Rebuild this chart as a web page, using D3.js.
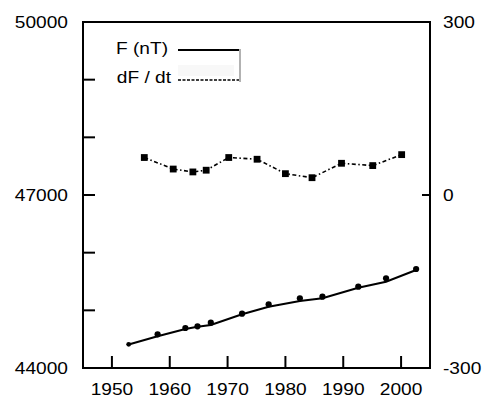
<!DOCTYPE html>
<html>
<head>
<meta charset="utf-8">
<script src="https://cdn.jsdelivr.net/npm/d3@7"></script>
<style>
  body { margin: 0; background: #fff; }
  text { font-family: "Liberation Sans", Arial, sans-serif; font-size: 16.5px; fill: #000; }
</style>
</head>
<body>
<svg id="chart" width="487" height="404"></svg>
<script>
// total field F (dots) and the fitted line, left axis
var fYears = [1952.9, 1957.9, 1962.7, 1964.8, 1967.1, 1972.5, 1977.1, 1982.5, 1986.4, 1992.6, 1997.4, 2002.6];
var fDots  = [44411, 44584, 44694, 44723, 44786, 44942, 45105, 45209, 45237, 45410, 45555, 45717];
var fLine  = [44408, 44550, 44676, 44716, 44746, 44931, 45063, 45162, 45209, 45393, 45497, 45699];
// secular variation dF/dt (squares), right axis
var dYears = [1955.6, 1960.6, 1964.0, 1966.3, 1970.2, 1975.1, 1980.0, 1984.6, 1989.7, 1995.1, 2000.1];
var dVals  = [65, 45, 40, 43, 65, 62, 37, 30, 55, 51, 70];
// ticks
var xTicks = [1950, 1960, 1970, 1980, 1990, 2000];
var leftTicks = [45000, 46000, 47000, 48000, 49000];
var leftLabels = [44000, 47000, 50000];
var rightLabels = [300, 0, -300];
var legendNames = ['F (nT)', 'dF / dt'];

var svg = d3.select('#chart');
var L = 83, R = 430, T = 22, B = 368;
var sx = 1.16;   // glyphs in the original are stretched horizontally

var x = d3.scaleLinear().domain([1945, 2005]).range([L, R]);
var yL = d3.scaleLinear().domain([44000, 50000]).range([B, T]);
var yR = d3.scaleLinear().domain([-300, 300]).range([B, T]);

function label(px, py, txt, anchor) {
  svg.append('text')
    .attr('transform', 'translate(' + px + ',' + py + ') scale(' + sx + ',1)')
    .attr('text-anchor', anchor)
    .attr('dy', '0.35em')
    .text(txt);
}

// frame
svg.append('rect')
  .attr('x', L).attr('y', T).attr('width', R - L).attr('height', B - T)
  .attr('fill', 'none').attr('stroke', '#000').attr('stroke-width', 2);

// inward ticks
svg.append('g').selectAll('line').data(leftTicks).enter().append('line')
  .attr('x1', L).attr('x2', L + 12)
  .attr('y1', function (d) { return yL(d) }).attr('y2', function (d) { return yL(d) })
  .attr('stroke', '#000').attr('stroke-width', 2);
svg.append('line')
  .attr('x1', R).attr('x2', R - 8).attr('y1', yR(0)).attr('y2', yR(0))
  .attr('stroke', '#000').attr('stroke-width', 2);
svg.append('g').selectAll('line').data(xTicks).enter().append('line')
  .attr('x1', function (d) { return x(d) }).attr('x2', function (d) { return x(d) })
  .attr('y1', B).attr('y2', B - 12)
  .attr('stroke', '#000').attr('stroke-width', 2);

// tick labels
leftLabels.forEach(function (d) { label(68, yL(d), d, 'end') });
rightLabels.forEach(function (d) { label(443, yR(d), d, 'start') });
xTicks.forEach(function (d) { label(x(d), 389, d, 'middle') });

// F line + dots
var fLineGen = d3.line()
  .x(function (d, i) { return x(fYears[i]) })
  .y(function (d) { return yL(d) });
svg.append('path')
  .datum(fLine)
  .attr('d', fLineGen)
  .attr('fill', 'none').attr('stroke', '#000').attr('stroke-width', 2);
svg.append('g').selectAll('circle').data(fDots).enter().append('circle')
  .attr('cx', function (d, i) { return x(fYears[i]) })
  .attr('cy', function (d) { return yL(d) })
  .attr('r', function (d, i) { return i == 0 ? 2.4 : 3.1 })
  .attr('fill', '#000');

// dF/dt line + squares
var dLineGen = d3.line()
  .x(function (d, i) { return x(dYears[i]) })
  .y(function (d) { return yR(d) });
svg.append('path')
  .datum(dVals)
  .attr('d', dLineGen)
  .attr('fill', 'none').attr('stroke', '#000').attr('stroke-width', 1.6)
  .attr('stroke-dasharray', '4,2.5,1.5,2.5');
svg.append('g').selectAll('rect').data(dVals).enter().append('rect')
  .attr('x', function (d, i) { return x(dYears[i]) - 3.4 })
  .attr('y', function (d) { return yR(d) - 3.4 })
  .attr('width', 6.8).attr('height', 6.8)
  .attr('fill', '#000');

// legend
var lg = svg.append('g');
lg.append('rect').attr('x', 178).attr('y', 65).attr('width', 56).attr('height', 11)
  .attr('fill', '#f8f8f8');
lg.append('line').attr('x1', 240).attr('x2', 240).attr('y1', 49).attr('y2', 82)
  .attr('stroke', '#999').attr('stroke-width', 1.5);
label(168, 48, legendNames[0], 'end');
label(171, 77, legendNames[1], 'end');
lg.append('line').attr('x1', 178).attr('x2', 239).attr('y1', 50).attr('y2', 50)
  .attr('stroke', '#000').attr('stroke-width', 1.8);
lg.append('line').attr('x1', 178).attr('x2', 239).attr('y1', 80).attr('y2', 80)
  .attr('stroke', '#000').attr('stroke-width', 1.6).attr('stroke-dasharray', '3,1.5');
</script>
</body>
</html>
